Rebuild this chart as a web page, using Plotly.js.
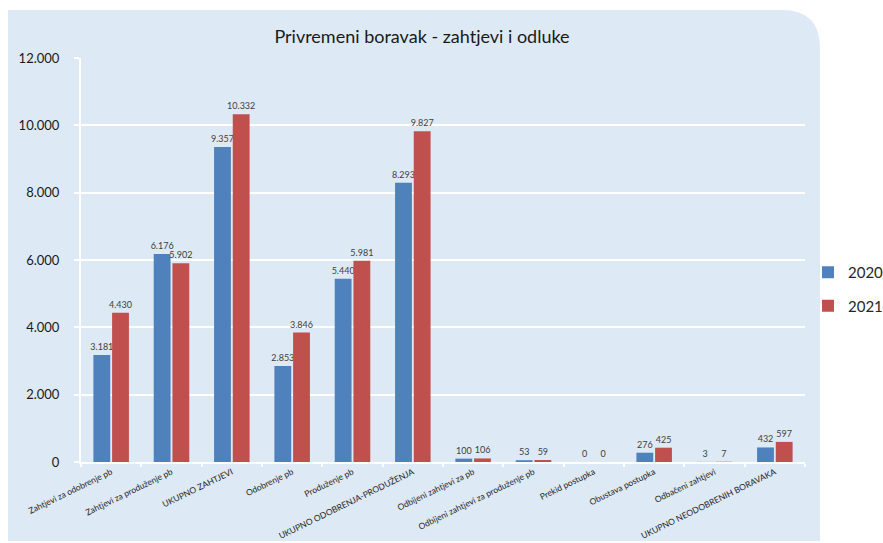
<!DOCTYPE html>
<html>
<head>
<meta charset="utf-8">
<script src="https://cdn.plot.ly/plotly-3.0.1.min.js"></script>
<style>html,body{margin:0;padding:0;background:#fff;}#chart{width:883px;height:543px;}</style>
</head>
<body>
<div id="chart"></div>
<script>
var categories = ["Zahtjevi za odobrenje pb", "Zahtjevi za produženje pb", "UKUPNO ZAHTJEVI", "Odobrenje pb", "Produženje pb", "UKUPNO ODOBRENJA-PRODUŽENJA", "Odbijeni zahtjevi za pb", "Odbijeni zahtjevi za produženje pb", "Prekid postupka", "Obustava postupka", "Odbačeni zahtjevi", "UKUPNO NEODOBRENIH BORAVAKA"];
var values2020 = [3181, 6176, 9357, 2853, 5440, 8293, 100, 53, 0, 276, 3, 432];
var values2021 = [4430, 5902, 10332, 3846, 5981, 9827, 106, 59, 0, 425, 7, 597];
var yTicks = [0, 2000, 4000, 6000, 8000, 10000, 12000];

var font = "Lato, 'Open Sans', sans-serif";
function series(name, vals, color) {
  return {
    type: "bar", name: name, legendgroup: name, x: categories, y: vals,
    marker: {color: color},
    text: vals.map(function(v){ return v.toLocaleString("de-DE"); }),
    textposition: "outside", cliponaxis: false, constraintext: "none",
    textfont: {size: 9, color: "#404040", family: font},
    hoverinfo: "x+y"
  };
}
var data = [series("2020", values2020, "#4f81bd"), series("2021", values2021, "#c0504d")];

// background rounded panel in paper coordinates
var L = 81, R = 805, T = 58, B = 462;
function px(x){ return (x - L) / (R - L); }
function py(y){ return (B - y) / (B - T); }
var x0 = px(8), x1 = px(820), y0 = py(541), y1 = py(10);
var rx = 38 / (R - L), ry = 38 / (B - T);
var path = "M " + x0 + "," + y0 + " L " + x0 + "," + y1 + " L " + (x1 - rx) + "," + y1 +
  " Q " + x1 + "," + y1 + " " + x1 + "," + (y1 - ry) + " L " + x1 + "," + y0 + " Z";

var layout = {
  width: 883, height: 543,
  margin: {l: L, r: 883 - R, t: T, b: 543 - B, pad: 0, autoexpand: false},
  paper_bgcolor: "#ffffff", plot_bgcolor: "rgba(0,0,0,0)",
  separators: ",.",
  font: {family: font, color: "#262626"},
  title: {text: "Privremeni boravak - zahtjevi i odluke", font: {size: 18, color: "#1a1a1a", family: font}, xref: "container", x: 422 / 883, xanchor: "center", yref: "container", y: 1 - 37 / 543, yanchor: "middle"},
  barmode: "group", bargap: 0.38, bargroupgap: 0.1,
  showlegend: true,
  legend: {xref: "container", yref: "container", x: 808 / 883, y: 1 - 256 / 543, xanchor: "left", yanchor: "top", font: {size: 15, color: "#262626", family: font}, tracegroupgap: 11, bgcolor: "rgba(0,0,0,0)", itemwidth: 30},
  xaxis: {
    type: "category", tickangle: -26, tickfont: {size: 8.5, color: "#262626", family: font},
    showline: true, linecolor: "#ffffff", linewidth: 2,
    ticks: "outside", ticklen: 3, tickcolor: "#ffffff", tickwidth: 2, tickson: "boundaries",
    showgrid: false, automargin: false
  },
  yaxis: {
    range: [0, 12000], tickvals: yTicks, ticktext: yTicks.map(function(v){ return v.toLocaleString("de-DE"); }),
    tickfont: {size: 13, color: "#1a1a1a", family: font},
    showgrid: true, gridcolor: "#ffffff", gridwidth: 2,
    showline: true, linecolor: "#ffffff", linewidth: 2,
    ticks: "outside", ticklen: 5, tickcolor: "#ffffff", tickwidth: 2,
    zeroline: false, automargin: false, ticklabelstandoff: 12
  },
  shapes: [{type: "path", xref: "paper", yref: "paper", path: path, fillcolor: "#dde9f5", line: {width: 0}, layer: "below"}]
};
Plotly.newPlot("chart", data, layout, {displayModeBar: false, staticPlot: true});
</script>
</body>
</html>
